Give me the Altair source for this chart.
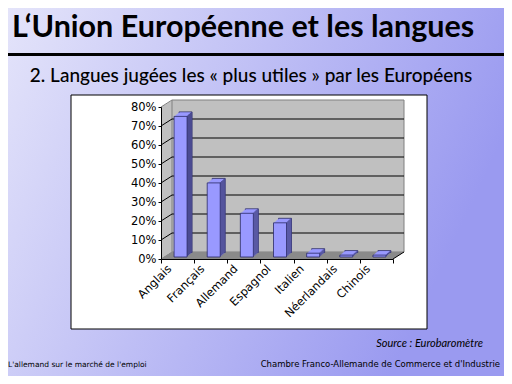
import altair as alt
import pandas as pd

langues = ["Anglais", "Français", "Allemand", "Espagnol", "Italien", "Néerlandais", "Chinois"]
valeurs = [74, 39, 23, 18, 2, 1, 1]
y_ticks = [0, 10, 20, 30, 40, 50, 60, 70, 80]
grid_vals = [10, 20, 30, 40, 50, 60, 70]

titre = "L‘Union Européenne et les langues"
sous_titre = "2. Langues jugées les « plus utiles » par les Européens"
source = "Source : Eurobaromètre"
pied_gauche = "L'allemand sur le marché de l'emploi"
pied_droit = "Chambre Franco-Allemande de Commerce et d'Industrie"

W, H = 232, 152
PL, PT = 153, 99
PR = 496 - PL - W
PB = 368 - PT - H
DX, DY = 11, -7  # depth of the 3D walls

df = pd.DataFrame({"langue": langues, "valeur": valeurs})
df_grid = pd.DataFrame({"valeur": grid_vals})
one = alt.Data(values=[{}])

x_enc = alt.X("langue:N", sort=langues,
              scale=alt.Scale(paddingInner=0, paddingOuter=0),
              axis=alt.Axis(title=None, domainColor="black", tickColor="black",
                            tickBand="extent", tickSize=4, labelAngle=-45,
                            labelAlign="right", labelBaseline="middle",
                            labelPadding=4, labelOffset=-8, labelFont="DejaVu Sans",
                            labelFontSize=11.5, labelColor="black", zindex=1))
y_enc = alt.Y("valeur:Q", scale=alt.Scale(domain=[0, 80], nice=False, zero=True),
              axis=alt.Axis(title=None, values=y_ticks, labelExpr="datum.value + '%'",
                            grid=False, domainColor="black", tickColor="black",
                            tickSize=3, labelPadding=2, labelFont="DejaVu Sans",
                            labelFontSize=11.5, labelColor="black", zindex=1))


def rect(x, x2, y, y2, **kw):
    return alt.Chart(one).mark_rect(**kw).encode(
        x=alt.value(x), x2=alt.value(x2), y=alt.value(y), y2=alt.value(y2))


def text(t, x, y, **kw):
    return alt.Chart(one).mark_text(text=t, baseline="alphabetic", **kw).encode(
        x=alt.value(x), y=alt.value(y))


layers = []
# slide background
grad = {"gradient": "linear", "x1": 0, "y1": 0, "x2": 1, "y2": 0.35,
        "stops": [{"offset": 0, "color": "#e4e4fa"}, {"offset": 1, "color": "#9a9af0"}]}
layers.append(rect(-PL, W + PR, -PT, H + PB, fill=grad))
layers.append(text(titre, -149, -70, align="left", font="Lato", fontSize=30.5,
                   fontWeight="bold", color="black"))
layers.append(alt.Chart(one).mark_rule(color="black", strokeWidth=3).encode(
    x=alt.value(-PL), x2=alt.value(W + PR), y=alt.value(-52.5)))
layers.append(text(sous_titre, 90, -25, align="center", font="Lato", fontSize=19,
                   fontWeight=500, color="black"))
# white chart box
layers.append(rect(-90, 266, -12, 222, fill="white", stroke="black", strokeWidth=1))
# left side wall
for k in range(DX):
    layers.append(rect(k, k + 1, DY * k / DX, H + DY * k / DX, fill="#c0c0c0"))
# back wall
layers.append(rect(DX, W + DX, DY, H + DY, fill="#c0c0c0", stroke="#808080", strokeWidth=1))
# floor
for k in range(-DY):
    xo = k * DX / (-DY)
    layers.append(rect(xo, W + xo + 1, H - k - 1, H - k, fill="#8a8a8a"))
# gridlines on back wall and side wall
layers.append(alt.Chart(df_grid).mark_rule(color="black", strokeWidth=1, yOffset=DY).encode(
    y=y_enc, x=alt.value(DX), x2=alt.value(W + DX)))
layers.append(alt.Chart(df_grid).mark_rule(color="black", strokeWidth=1, y2Offset=DY).encode(
    y=y_enc, y2=alt.Y2("valeur"), x=alt.value(0), x2=alt.value(DX)))
layers.append(alt.Chart(one).mark_rule(color="#808080", strokeWidth=1).encode(
    x=alt.value(0), x2=alt.value(DX), y=alt.value(0), y2=alt.value(DY)))
layers.append(alt.Chart(one).mark_rule(color="black", strokeWidth=1).encode(
    x=alt.value(W), x2=alt.value(W + DX), y=alt.value(H), y2=alt.value(H + DY)))

# 3D bars
BW, BX, BY = 13, 3, -2
DEPTH, DK = 5, 0.9
front = "#9999ff"
side = "#46468a"
edge = "#2a2a66"


def bar(xoff, yoff, fill, width=BW, stroke=None):
    kw = dict(width=width, xOffset=xoff, yOffset=yoff, y2Offset=yoff, fill=fill)
    if stroke:
        kw.update(stroke=stroke, strokeWidth=0.8)
    else:
        kw.update(strokeWidth=0)
    return alt.Chart(df).mark_bar(**kw).encode(x=x_enc, y=y_enc)


layers.append(bar(BX + DEPTH, BY - DK * DEPTH, front, stroke=edge))
for k in range(1, DEPTH):
    layers.append(bar(BX + k, BY - DK * k, front))
for k in range(1, DEPTH + 1):
    layers.append(bar(BX + BW / 2 + k - 0.5, BY - DK * k, side, width=1))
layers.append(bar(BX, BY, front, stroke=edge))

# footer texts
layers.append(text(source, 322, 240, align="right", font="Lato", fontSize=11,
                   fontStyle="italic", color="black"))
layers.append(text(pied_gauche, -153, 260, align="left", font="DejaVu Sans", fontSize=7.5,
                   color="black"))
layers.append(text(pied_droit, 339, 260, align="right", font="DejaVu Sans", fontSize=8.5,
                   color="black"))

chart = alt.layer(*layers).properties(
    width=W, height=H,
    padding={"left": PL, "top": PT, "right": PR, "bottom": PB},
    autosize=alt.AutoSizeParams(type="none"),
).configure_view(stroke=None)

chart.save("out.html", embed_options={"renderer": "svg", "actions": False})
